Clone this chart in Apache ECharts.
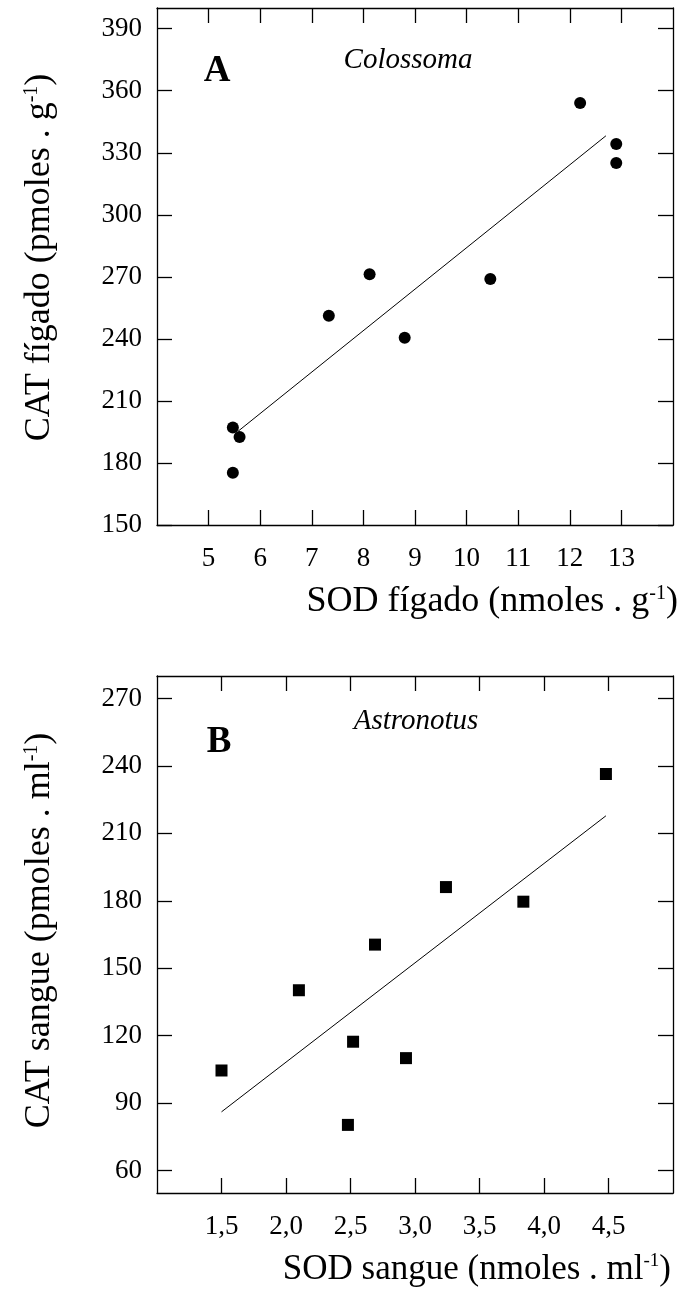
<!DOCTYPE html>
<html>
<head>
<meta charset="utf-8">
<script src="https://cdn.jsdelivr.net/npm/echarts@6/dist/echarts.min.js"></script>
<style>
  html, body { margin: 0; padding: 0; background: #fff; }
  #chart { width: 682px; height: 1302px; }
</style>
</head>
<body>
<div id="chart"></div>
<script>
// painel A - Colossoma (fígado)
const sodFigado = [5.47, 5.47, 5.6, 7.33, 8.12, 8.8, 10.46, 12.2, 12.9, 12.9]
const catFigado = [175.3, 197.2, 192.6, 251.2, 271.3, 240.5, 269, 354.1, 334.2, 325]
const retaA = [[5.57, 195.3], [12.7, 338.2]] // reta de regressão (extremos)

// painel B - Astronotus (sangue)
const sodSangue = [1.5, 2.1, 2.48, 2.52, 2.69, 2.93, 3.24, 3.84, 4.48]
const catSangue = [104.5, 140.2, 80.3, 117.3, 160.5, 110, 186.1, 179.6, 236.4]
const retaB = [[1.5, 86.1], [4.48, 217.8]]

// marcas dos eixos
const ticksXA = [5, 6, 7, 8, 9, 10, 11, 12, 13]
const ticksYA = [150, 180, 210, 240, 270, 300, 330, 360, 390]
const ticksXB = [1.5, 2.0, 2.5, 3.0, 3.5, 4.0, 4.5]
const ticksYB = [60, 90, 120, 150, 180, 210, 240, 270]

const FONT = 'Liberation Serif'
const black = '#000'

const zip = (xs, ys) => xs.map((x, i) => [x, ys[i]])
const virgula = v => v.toFixed(1).replace('.', ',')

const line = { show: true, onZero: false, lineStyle: { color: black, width: 1.3 } }
const tick = vals => ({ show: true, inside: true, length: 15, customValues: vals, lineStyle: { color: black, width: 1.3 } })
const label = (vals, margin, fmt) => ({
  show: true, customValues: vals, margin: margin, color: black,
  fontFamily: FONT, fontSize: 27, formatter: fmt
})
const noLabel = { show: false }

const richName = size => ({
  t: { fontFamily: FONT, fontSize: size, color: black },
  s: { fontFamily: FONT, fontSize: Math.round(size * 0.55), color: black, verticalAlign: 'top' }
})

let chart = echarts.init(document.getElementById('chart'))
chart.setOption({
  animation: false,
  backgroundColor: '#fff',
  grid: [
    { left: 157, top: 8, width: 516, height: 517 },
    { left: 157, top: 676, width: 516, height: 517 }
  ],
  xAxis: [
    {
      gridIndex: 0, type: 'value', min: 4, max: 14, position: 'bottom',
      axisLine: line, axisTick: tick(ticksXA), axisLabel: label(ticksXA, 20), splitLine: { show: false },
      name: '{t|SOD fígado (nmoles . g}{s|-1}{t|)}', nameLocation: 'end', nameGap: 5,
      nameTextStyle: { align: 'right', verticalAlign: 'top', padding: [59, 0, 0, 0], rich: richName(36) }
    },
    {
      gridIndex: 0, type: 'value', min: 4, max: 14, position: 'top',
      axisLine: line, axisTick: tick(ticksXA), axisLabel: noLabel, splitLine: { show: false }
    },
    {
      gridIndex: 1, type: 'value', min: 1, max: 5, position: 'bottom',
      axisLine: line, axisTick: tick(ticksXB), axisLabel: label(ticksXB, 20, virgula), splitLine: { show: false },
      name: '{t|SOD sangue (nmoles . ml}{s|-1}{t|)}', nameLocation: 'end', nameGap: -2,
      nameTextStyle: { align: 'right', verticalAlign: 'top', padding: [59, 0, 0, 0], rich: richName(35) }
    },
    {
      gridIndex: 1, type: 'value', min: 1, max: 5, position: 'top',
      axisLine: line, axisTick: tick(ticksXB), axisLabel: noLabel, splitLine: { show: false }
    }
  ],
  yAxis: [
    {
      gridIndex: 0, type: 'value', min: 150, max: 400, position: 'left',
      axisLine: line, axisTick: tick(ticksYA), axisLabel: label(ticksYA, 15), splitLine: { show: false },
      name: '{t|CAT fígado (pmoles . g}{s|-1}{t|)}', nameLocation: 'middle', nameRotate: 90, nameGap: 99,
      nameTextStyle: { padding: [0, 0, 0, 18], rich: richName(36) }
    },
    {
      gridIndex: 0, type: 'value', min: 150, max: 400, position: 'right',
      axisLine: line, axisTick: tick(ticksYA), axisLabel: noLabel, splitLine: { show: false }
    },
    {
      gridIndex: 1, type: 'value', min: 50, max: 280, position: 'left',
      axisLine: line, axisTick: tick(ticksYB), axisLabel: label(ticksYB, 15), splitLine: { show: false },
      name: '{t|CAT sangue (pmoles . ml}{s|-1}{t|)}', nameLocation: 'middle', nameRotate: 90, nameGap: 99,
      nameTextStyle: { padding: [0, 0, 0, 8], rich: richName(36) }
    },
    {
      gridIndex: 1, type: 'value', min: 50, max: 280, position: 'right',
      axisLine: line, axisTick: tick(ticksYB), axisLabel: noLabel, splitLine: { show: false }
    }
  ],
  graphic: [
    { type: 'text', x: 217, y: 71, style: { text: 'A', font: 'bold 37px "Liberation Serif"', fill: black, textAlign: 'center', textVerticalAlign: 'middle' } },
    { type: 'text', x: 408, y: 60, style: { text: 'Colossoma', font: 'italic 29px "Liberation Serif"', fill: black, textAlign: 'center', textVerticalAlign: 'middle' } },
    { type: 'text', x: 219, y: 742, style: { text: 'B', font: 'bold 37px "Liberation Serif"', fill: black, textAlign: 'center', textVerticalAlign: 'middle' } },
    { type: 'text', x: 416, y: 721, style: { text: 'Astronotus', font: 'italic 29px "Liberation Serif"', fill: black, textAlign: 'center', textVerticalAlign: 'middle' } }
  ],
  series: [
    {
      type: 'scatter', xAxisIndex: 0, yAxisIndex: 0, symbol: 'circle', symbolSize: 12,
      itemStyle: { color: black, opacity: 1 }, data: zip(sodFigado, catFigado)
    },
    {
      type: 'line', xAxisIndex: 0, yAxisIndex: 0, showSymbol: false, silent: true,
      lineStyle: { color: black, width: 1 }, data: retaA
    },
    {
      type: 'scatter', xAxisIndex: 2, yAxisIndex: 2, symbol: 'rect', symbolSize: 12,
      itemStyle: { color: black, opacity: 1 }, data: zip(sodSangue, catSangue)
    },
    {
      type: 'line', xAxisIndex: 2, yAxisIndex: 2, showSymbol: false, silent: true,
      lineStyle: { color: black, width: 1 }, data: retaB
    }
  ]
})
</script>
</body>
</html>
